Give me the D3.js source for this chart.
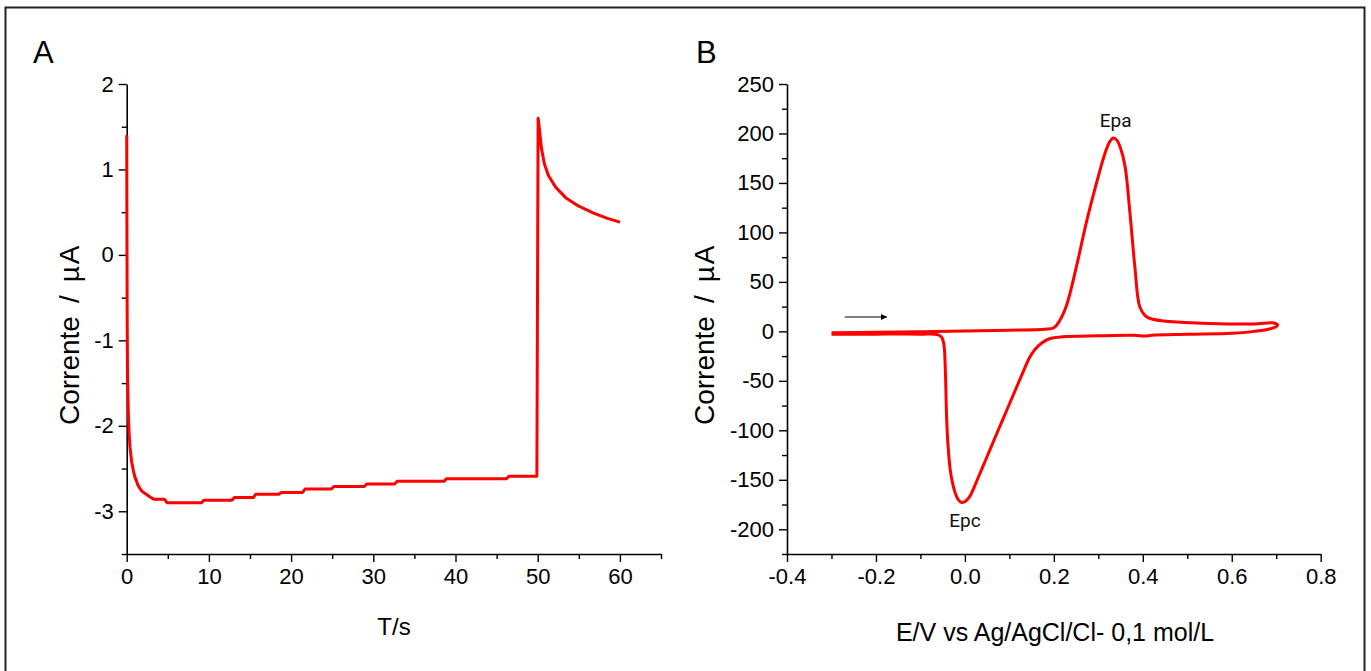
<!DOCTYPE html>
<html>
<head>
<meta charset="utf-8">
<script src="https://cdn.jsdelivr.net/npm/d3@7"></script>
<style>
  html, body { margin: 0; padding: 0; background: #fff; }
  svg { display: block; font-family: "Liberation Sans", Arial, sans-serif; }
</style>
</head>
<body>
<div id="chart"></div>
<script>
// Panel A: chronoamperometry (time in s, current in µA)
const timeA = [0, 0.03, 0.06, 0.1, 0.2, 0.3, 0.4, 0.6, 0.8, 1.0, 1.4, 1.8, 2.2, 2.8, 3.3, 4.6, 4.9, 9.1, 9.4,
  12.8, 13.1, 15.4, 15.7, 18.5, 18.8, 21.4, 21.7, 24.9, 25.2, 28.9, 29.2, 32.6, 32.9, 38.6, 38.9,
  46.2, 46.5, 49.9, 50.05, 50.2, 50.45, 50.8, 51.3, 52.2, 53.4, 55.0, 56.8, 58.4, 59.8, 60];
const currentA = [1.4, 0.2, -0.8, -1.4, -1.85, -2.1, -2.25, -2.42, -2.52, -2.6, -2.7, -2.76, -2.79, -2.83, -2.86, -2.86, -2.9, -2.9, -2.87,
  -2.87, -2.84, -2.84, -2.8, -2.8, -2.78, -2.78, -2.74, -2.74, -2.71, -2.71, -2.68, -2.68, -2.65, -2.65, -2.62,
  -2.62, -2.59, -2.59, 1.6, 1.48, 1.25, 1.07, 0.93, 0.79, 0.67, 0.57, 0.49, 0.43, 0.39, 0.38];

// Panel B: cyclic voltammogram (potential in V, current in µA), forward then reverse scan
const potentialB = [-0.3, -0.2, -0.1, 0.0, 0.1, 0.18, 0.2, 0.212, 0.229, 0.251, 0.273, 0.296, 0.315, 0.326, 0.334, 0.342,
  0.35, 0.36, 0.371, 0.382, 0.393, 0.405, 0.42, 0.46, 0.55, 0.65, 0.695, 0.703,
  0.69, 0.65, 0.6, 0.5, 0.42, 0.405, 0.38, 0.3, 0.22, 0.19, 0.172, 0.158, 0.146, 0.128, 0.109, 0.09, 0.071, 0.055,
  0.041, 0.025, 0.012, 0.002, -0.007, -0.015, -0.022, -0.028, -0.033, -0.038, -0.041, -0.044, -0.047, -0.052,
  -0.06, -0.1, -0.2, -0.3];
const currentB = [-1.5, -1.0, -0.4, 0.3, 1.2, 2.2, 3.6, 10, 27, 66, 110, 150, 180, 192, 195.5, 193,
  185, 167, 120, 66, 25, 16, 12.5, 10, 8, 7.5, 8.5, 6,
  3, 0, -2, -3, -4, -4.8, -4, -4.5, -5.5, -7.5, -12, -18, -26, -44, -64, -84, -104, -121,
  -136, -153, -166, -171.5, -173, -170, -163, -153, -140, -115, -89, -39, -14, -6,
  -3.5, -2.8, -2.8, -3];

// Axis ticks
const ticksAx = [0, 10, 20, 30, 40, 50, 60];
const minorAx = [5, 15, 25, 35, 45, 55, 65];
const ticksAy = [-3, -2, -1, 0, 1, 2];
const minorAy = [-3.5, -2.5, -1.5, -0.5, 0.5, 1.5];
const ticksBx = [-0.4, -0.2, 0.0, 0.2, 0.4, 0.6, 0.8];
const minorBx = [-0.3, -0.1, 0.1, 0.3, 0.5, 0.7];
const ticksBy = [-200, -150, -100, -50, 0, 50, 100, 150, 200, 250];
const minorBy = [-225, -175, -125, -75, -25, 25, 75, 125, 175, 225];

// Annotations (data units)
const peakLabels = [{ text: 'Epa', x: 0.339, y: 212 }, { text: 'Epc', x: 0.0, y: -193 }];
const scanArrow = { x0: -0.27, x1: -0.175, y: 14.5 };

const W = 1371, H = 671;
const loc = d3.formatLocale({ decimal: '.', thousands: ',', grouping: [3], currency: ['', ''], minus: '-' });

const svg = d3.select('#chart').append('svg').attr('width', W).attr('height', H);

svg.append('defs').append('marker')
  .attr('id', 'arrowHead')
  .attr('viewBox', '0 0 10 10')
  .attr('refX', 10).attr('refY', 5)
  .attr('markerWidth', 9).attr('markerHeight', 6)
  .attr('markerUnits', 'userSpaceOnUse')
  .attr('orient', 'auto')
  .append('path').attr('d', 'M0,0 L10,5 L0,10 Z').attr('fill', '#000');

// Outer frame
svg.append('rect')
  .attr('x', 5.5).attr('y', 7.5)
  .attr('width', 1359).attr('height', 680)
  .attr('fill', 'none').attr('stroke', '#222').attr('stroke-width', 2);

function drawAxes(g, x, y, xt, xm, yt, ym, xfmt, yfmt) {
  const [x0] = x.range();
  const [y0] = y.range();

  const xMaj = g.append('g').attr('transform', `translate(0,${y0})`)
    .call(d3.axisBottom(x).tickValues(xt).tickFormat(xfmt).tickSize(8).tickSizeOuter(0).tickPadding(6));
  g.append('g').attr('transform', `translate(0,${y0})`)
    .call(d3.axisBottom(x).tickValues(xm).tickFormat('').tickSize(5).tickSizeOuter(0))
    .select('.domain').remove();

  const yMaj = g.append('g').attr('transform', `translate(${x0},0)`)
    .call(d3.axisLeft(y).tickValues(yt).tickFormat(yfmt).tickSize(8).tickSizeOuter(0).tickPadding(5));
  g.append('g').attr('transform', `translate(${x0},0)`)
    .call(d3.axisLeft(y).tickValues(ym).tickFormat('').tickSize(5).tickSizeOuter(0))
    .select('.domain').remove();

  g.selectAll('.domain').attr('stroke', '#000').attr('stroke-width', 1.6);
  g.selectAll('.tick line').attr('stroke', '#000').attr('stroke-width', 1.4);
  [xMaj, yMaj].forEach(a => a.selectAll('text')
    .attr('fill', '#000').attr('font-size', '22px')
    .attr('font-family', '"Liberation Sans", Arial, sans-serif'));
}

// Rotated axis title, spaced like the original ("Corrente / µA")
function yLabel(g, cx, yBottom) {
  const t = g.append('text')
    .attr('transform', `translate(${cx},${yBottom}) rotate(-90)`)
    .attr('text-anchor', 'start')
    .attr('font-size', '28px');
  t.append('tspan').text('Corrente');
  t.append('tspan').attr('dx', 13).text('/');
  t.append('tspan').attr('dx', 13).attr('letter-spacing', 2).text('\u00b5A');
}

// ---------- Panel A ----------
const gA = svg.append('g');
const xA = d3.scaleLinear().domain([0, 65]).range([126.7, 661]);
const yA = d3.scaleLinear().domain([-3.5, 2]).range([554, 84]);

drawAxes(gA, xA, yA, ticksAx, minorAx, ticksAy, minorAy, loc.format('d'), loc.format('d'));

gA.append('path')
  .datum(d3.zip(timeA, currentA))
  .attr('fill', 'none')
  .attr('stroke', '#ff0000')
  .attr('stroke-width', 3)
  .attr('stroke-linejoin', 'round')
  .attr('d', d3.line().x(d => xA(d[0])).y(d => yA(d[1])));

gA.append('text').attr('x', 33).attr('y', 63).attr('font-size', '31px').text('A');
yLabel(gA, 79, 425);
gA.append('text').attr('x', 394).attr('y', 635).attr('text-anchor', 'middle')
  .attr('font-size', '24px').text('T/s');

// ---------- Panel B ----------
const gB = svg.append('g');
const xB = d3.scaleLinear().domain([-0.4, 0.8]).range([787, 1320.7]);
const yB = d3.scaleLinear().domain([-225, 250]).range([554, 84]);

drawAxes(gB, xB, yB, ticksBx, minorBx, ticksBy, minorBy, loc.format('.1f'), loc.format('d'));

gB.append('path')
  .datum(d3.zip(potentialB, currentB))
  .attr('fill', 'none')
  .attr('stroke', '#ff0000')
  .attr('stroke-width', 3)
  .attr('stroke-linejoin', 'round')
  .attr('d', d3.line().curve(d3.curveCatmullRom.alpha(0.5)).x(d => xB(d[0])).y(d => yB(d[1])));

gB.selectAll('.peak-label')
  .data(peakLabels)
  .enter().append('text')
  .attr('class', 'peak-label')
  .attr('x', d => xB(d.x))
  .attr('y', d => yB(d.y))
  .attr('text-anchor', 'middle')
  .attr('dominant-baseline', 'middle')
  .attr('font-size', '19px')
  .attr('font-family', 'Roboto, "Liberation Sans", sans-serif')
  .attr('fill', '#111')
  .text(d => d.text);

gB.append('line')
  .attr('x1', xB(scanArrow.x0)).attr('x2', xB(scanArrow.x1))
  .attr('y1', yB(scanArrow.y)).attr('y2', yB(scanArrow.y))
  .attr('stroke', '#000').attr('stroke-width', 1.2)
  .attr('marker-end', 'url(#arrowHead)');

gB.append('text').attr('x', 696).attr('y', 63).attr('font-size', '31px').text('B');
yLabel(gB, 714, 425);
gB.append('text').attr('x', 1055).attr('y', 641).attr('text-anchor', 'middle')
  .attr('font-size', '25px').text('E/V vs Ag/AgCl/Cl- 0,1 mol/L');
</script>
</body>
</html>
